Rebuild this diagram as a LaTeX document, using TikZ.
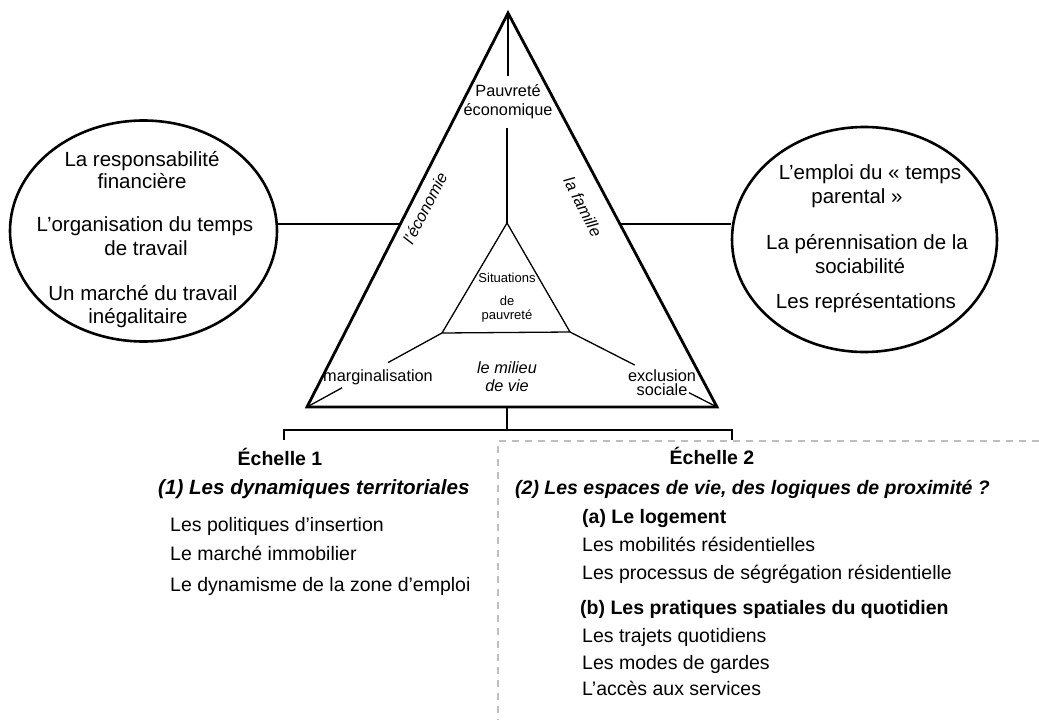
\documentclass[tikz,border=0pt]{standalone}
\usepackage{fontspec}
\setmainfont{Liberation Sans}
\usetikzlibrary{calc,shapes.geometric}
\begin{document}
\begin{tikzpicture}[x=1pt,y=-1pt,
  ell/.style={draw, ellipse, line width=2.6pt, inner sep=0pt},
  etxt/.style={anchor=base, inner sep=0pt, font=\fontsize{20.5}{24}\selectfont},
  ttxt/.style={anchor=base, inner sep=0pt, font=\fontsize{16.3}{18}\selectfont},
  stxt/.style={anchor=base, inner sep=0pt, font=\fontsize{13}{15}\selectfont},
  rtxt/.style={inner sep=0pt, font=\fontsize{16.3}{18}\selectfont\itshape},
  btxt/.style={anchor=base west, inner sep=0pt, font=\fontsize{19.5}{22}\selectfont},
  bhead/.style={anchor=base west, inner sep=0pt, font=\fontsize{19.5}{22}\selectfont\bfseries},
  bital/.style={anchor=base west, inner sep=0pt, font=\fontsize{19.5}{22}\selectfont\bfseries\itshape},
  outer/.style={line width=2.8pt},
  inner/.style={line width=1.3pt},
  conn/.style={line width=2pt},
  brack/.style={line width=2.3pt},
  dashgrey/.style={line width=2pt, draw=black!25, dash pattern=on 7pt off 6pt}
]
\useasboundingbox (0,0) rectangle (1039,720);

% outer triangle
\coordinate (A) at (508,13);
\coordinate (B) at (307,407);
\coordinate (C) at (717,407);
\draw[outer] (A) -- (B) -- (C) -- cycle;

% inner triangle
\coordinate (ia) at (507,223);
\coordinate (ib) at (442,333);
\coordinate (ic) at (570,332);
\draw[inner] (ia) -- (ib) -- (ic) -- cycle;

% top label and spokes
\node[ttxt] (pauv) at (508,96.7) {Pauvreté};
\node[ttxt] (econ) at (508,115) {économique};
\coordinate (pt1) at (508,76);
\coordinate (pt2) at (507,128);
\draw[inner] (A) -- (pt1);
\draw[inner] (pt2) -- (ia);

\node[ttxt] (marg) at (378,381.7) {marginalisation};
\draw[inner] (ib) -- ($(ib)!0.4!(B)$);
\draw[inner] ($(ib)!0.74!(B)$) -- (B);

\node[ttxt] (excl) at (662,381) {exclusion};
\node[ttxt] (soc) at (662,395) {sociale};
\draw[inner] (ic) -- ($(ic)!0.44!(C)$);
\draw[inner] ($(ic)!0.81!(C)$) -- (C);

\node[ttxt, font=\fontsize{16.3}{18}\selectfont\itshape] (mil) at (507,373) {le milieu};
\node[ttxt, font=\fontsize{16.3}{18}\selectfont\itshape] (dev) at (507,391.7) {de vie};

\node[stxt] (sit) at (507,282.7) {Situations};
\node[stxt] (de) at (507,305) {de};
\node[stxt] (pv) at (507,319) {pauvreté};

\node[rtxt, rotate=63] (eco) at (425,208) {l'économie};
\node[rtxt, rotate=-63] (fam) at (583,207) {la famille};

% ellipses
\node[ell, minimum width=267pt, minimum height=221pt] (lell) at (143.5,231) {};
\node[ell, minimum width=265pt, minimum height=225pt] (rell) at (864.5,239.5) {};

\node[etxt] (l1) at (142,166) {La responsabilité};
\node[etxt] (l2) at (142,188.5) {financière};
\node[etxt] (l3) at (145,231) {L’organisation du temps};
\node[etxt] (l4) at (146,255) {de travail};
\node[etxt] (l5) at (143,300) {Un marché du travail};
\node[etxt] (l6) at (138,323) {inégalitaire};

\node[etxt] (r1) at (870,179) {L’emploi du « temps};
\node[etxt] (r2) at (857,203) {parental »};
\node[etxt] (r3) at (867,249) {La pérennisation de la};
\node[etxt] (r4) at (860,273) {sociabilité};
\node[etxt] (r5) at (866,308) {Les représentations};

% connectors to ellipses
\coordinate (lm) at ($(B)!0.4645!(A)$);
\coordinate (rm) at ($(C)!0.4645!(A)$);
\draw[conn] (lm) -- (lm -| lell.east);
\draw[conn] (rm) -- (rm -| rell.west);

% bracket
\coordinate (bm) at (507,407);
\coordinate (bj) at (507,430);
\coordinate (bl) at (284,430);
\coordinate (br) at (732,430);
\coordinate (bl2) at (284,440);
\coordinate (br2) at (732,440);
\draw[brack] (bm) -- (bj);
\draw[brack] (bl2) -- (bl) -- (br) -- (br2);

% dashed frame
\coordinate (d1) at (1039,441);
\coordinate (d2) at (498,441);
\coordinate (d3) at (498,720);
\draw[dashgrey] (d1) -- (d2) -- (d3);

% bottom texts left
\node[bhead, anchor=base] (e1) at (280,465.7) {Échelle 1};
\node[bital, font=\fontsize{20.6}{23}\selectfont\bfseries\itshape] (h1) at (158,494) {(1) Les dynamiques territoriales};
\node[btxt] (t1) at (170,531.7) {Les politiques d’insertion};
\node[btxt] (t2) at (170,560) {Le marché immobilier};
\node[btxt] (t3) at (170,591.7) {Le dynamisme de la zone d’emploi};

% bottom texts right
\node[bhead, anchor=base] (e2) at (712,464) {Échelle 2};
\node[bital] (h2) at (515,494) {(2) Les espaces de vie, des logiques de proximité ?};
\node[bhead] (ha) at (582,523) {(a) Le logement};
\node[btxt] (s1) at (582,551) {Les mobilités résidentielles};
\node[btxt] (s2) at (582,579) {Les processus de ségrégation résidentielle};
\node[bhead] (hb) at (580,614) {(b) Les pratiques spatiales du quotidien};
\node[btxt] (s3) at (582,642) {Les trajets quotidiens};
\node[btxt] (s4) at (582,669) {Les modes de gardes};
\node[btxt] (s5) at (582,695) {L’accès aux services};
\end{tikzpicture}
\end{document}
